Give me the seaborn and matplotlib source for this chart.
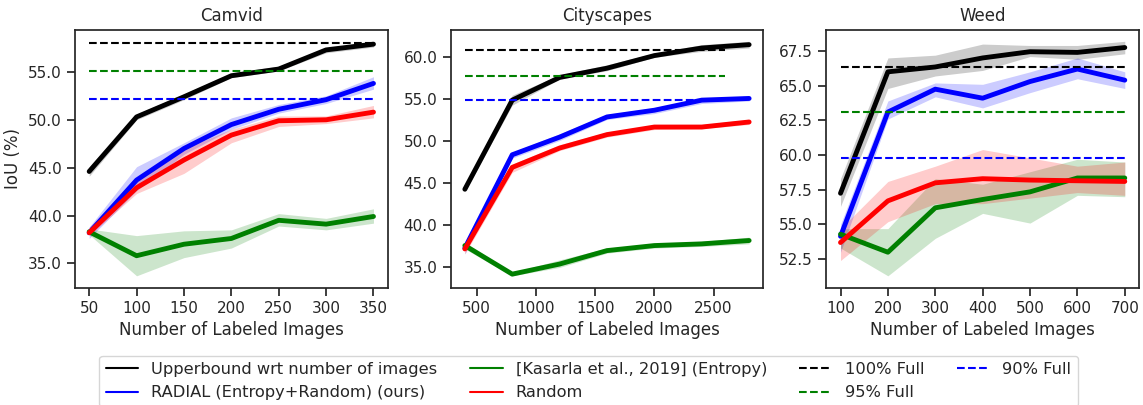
import numpy as np
import pandas as pd
import matplotlib
matplotlib.use("Agg")
import matplotlib.pyplot as plt
from matplotlib.lines import Line2D
from matplotlib.ticker import FormatStrFormatter
import seaborn as sns

# ---------------- data ----------------
titles = ["Camvid", "Cityscapes", "Weed"]
method_names = ["Upperbound wrt number of images", "RADIAL (Entropy+Random) (ours)",
                "[Kasarla et al., 2019] (Entropy)", "Random"]
ref_names = ["100% Full", "95% Full", "90% Full"]

# Camvid
camvid_x = [50, 100, 150, 200, 250, 300, 350]
camvid_upper = [44.6, 50.3, 52.4, 54.6, 55.3, 57.3, 57.9]
camvid_upper_lo = [44.1, 50.0, 52.1, 54.4, 55.1, 57.0, 57.6]
camvid_upper_hi = [45.1, 50.6, 52.7, 54.9, 55.6, 57.5, 58.2]
camvid_radial = [38.2, 43.7, 47.0, 49.5, 51.1, 52.1, 53.8]
camvid_radial_lo = [37.6, 42.6, 46.4, 49.0, 50.7, 51.7, 53.2]
camvid_radial_hi = [38.8, 45.1, 47.6, 50.2, 51.6, 52.5, 54.5]
camvid_entropy = [38.3, 35.8, 37.0, 37.6, 39.5, 39.1, 39.9]
camvid_entropy_lo = [38.0, 33.7, 35.6, 36.6, 38.9, 38.5, 39.2]
camvid_entropy_hi = [38.6, 37.9, 38.4, 38.5, 40.2, 39.7, 40.7]
camvid_random = [38.2, 42.9, 45.8, 48.4, 49.9, 50.0, 50.8]
camvid_random_lo = [37.9, 42.3, 44.4, 47.6, 49.3, 49.6, 50.2]
camvid_random_hi = [38.8, 43.5, 47.0, 49.0, 50.4, 50.4, 51.5]
camvid_refs = [58.0, 55.07, 52.18]
camvid_ref_span = [50, 350]

# Cityscapes
city_x = [400, 800, 1200, 1600, 2000, 2400, 2800]
city_upper = [44.3, 54.9, 57.6, 58.7, 60.2, 61.1, 61.5]
city_upper_lo = [44.0, 54.3, 57.4, 58.4, 60.0, 60.7, 61.1]
city_upper_hi = [44.6, 55.5, 57.9, 59.1, 60.5, 61.5, 61.9]
city_radial = [37.3, 48.4, 50.5, 52.9, 53.7, 54.9, 55.1]
city_radial_lo = [36.6, 48.0, 50.1, 52.6, 53.3, 54.5, 54.8]
city_radial_hi = [37.8, 48.7, 50.9, 53.2, 54.0, 55.1, 55.4]
city_entropy = [37.6, 34.2, 35.4, 37.0, 37.6, 37.8, 38.2]
city_entropy_lo = [37.2, 34.0, 35.0, 36.7, 37.3, 37.5, 37.8]
city_entropy_hi = [38.0, 34.4, 35.9, 37.3, 37.8, 38.1, 38.6]
city_random = [37.2, 46.9, 49.2, 50.8, 51.7, 51.7, 52.3]
city_random_lo = [36.6, 46.3, 48.9, 50.5, 51.4, 51.5, 52.0]
city_random_hi = [37.7, 47.3, 49.6, 51.1, 51.9, 52.0, 52.6]
city_refs = [60.83, 57.82, 54.86]
city_ref_span = [400, 2600]

# Weed
weed_x = [100, 200, 300, 400, 500, 600, 700]
weed_upper = [57.25, 66.0, 66.35, 67.0, 67.45, 67.4, 67.75]
weed_upper_lo = [56.3, 64.8, 65.7, 66.1, 67.1, 66.9, 67.3]
weed_upper_hi = [58.3, 67.0, 67.2, 68.0, 67.9, 67.9, 68.2]
weed_radial = [54.15, 63.1, 64.75, 64.1, 65.3, 66.2, 65.4]
weed_radial_lo = [53.0, 62.6, 64.2, 63.4, 64.5, 65.5, 64.8]
weed_radial_hi = [55.0, 63.9, 65.2, 65.1, 66.0, 67.0, 66.0]
weed_entropy = [54.3, 53.0, 56.2, 56.8, 57.35, 58.35, 58.35]
weed_entropy_lo = [53.3, 51.3, 54.0, 55.8, 55.1, 57.1, 57.0]
weed_entropy_hi = [54.7, 54.7, 58.3, 57.9, 58.8, 59.7, 59.5]
weed_random = [53.7, 56.7, 58.0, 58.3, 58.2, 58.15, 58.1]
weed_random_lo = [52.4, 55.2, 56.5, 56.5, 56.9, 57.3, 57.1]
weed_random_hi = [54.7, 58.1, 59.2, 60.4, 59.8, 59.2, 59.5]
weed_refs = [66.38, 63.1, 59.8]
weed_ref_span = [100, 700]

method_colors = ["black", "blue", "green", "red"]
ref_colors = ["black", "green", "blue"]

datasets = [
    (camvid_x,
     [(camvid_upper, camvid_upper_lo, camvid_upper_hi),
      (camvid_radial, camvid_radial_lo, camvid_radial_hi),
      (camvid_entropy, camvid_entropy_lo, camvid_entropy_hi),
      (camvid_random, camvid_random_lo, camvid_random_hi)],
     camvid_refs, camvid_ref_span),
    (city_x,
     [(city_upper, city_upper_lo, city_upper_hi),
      (city_radial, city_radial_lo, city_radial_hi),
      (city_entropy, city_entropy_lo, city_entropy_hi),
      (city_random, city_random_lo, city_random_hi)],
     city_refs, city_ref_span),
    (weed_x,
     [(weed_upper, weed_upper_lo, weed_upper_hi),
      (weed_radial, weed_radial_lo, weed_radial_hi),
      (weed_entropy, weed_entropy_lo, weed_entropy_hi),
      (weed_random, weed_random_lo, weed_random_hi)],
     weed_refs, weed_ref_span),
]

# ---------------- plot ----------------
sns.set_theme(style="ticks", context="notebook")
plt.rcParams["font.family"] = ["DejaVu Sans"]

fig, axes = plt.subplots(1, 3, figsize=(11.43, 4.05), dpi=100)
fig.subplots_adjust(left=0.0656, right=0.9965, top=0.927, bottom=0.29, wspace=0.2013)

for ax, title, (xs, series, refs, span) in zip(axes, titles, datasets):
    for (vals, lo, hi), col, name in zip(series, method_colors, method_names):
        df = pd.DataFrame({"x": xs, "y": vals})
        ax.fill_between(xs, lo, hi, color=col, alpha=0.2, linewidth=0)
        sns.lineplot(data=df, x="x", y="y", color=col, linewidth=3.5, ax=ax)
    for v, col in zip(refs, ref_colors):
        ax.hlines(v, span[0], span[1], colors=col, linestyles="--", linewidth=1.5)
    ax.set_title(title)
    ax.set_xlabel("Number of Labeled Images")
    ax.set_ylabel("")
    ax.yaxis.set_major_formatter(FormatStrFormatter("%.1f"))

axes[0].set_ylabel("IoU (%)")
axes[0].set_xticks(camvid_x)
axes[1].set_xticks([500, 1000, 1500, 2000, 2500])
axes[2].set_xticks(weed_x)

handles = [Line2D([], [], color=c, lw=1.5) for c in method_colors]
handles += [Line2D([], [], color=c, lw=1.5, ls="--") for c in ref_colors]
labels = method_names + ref_names
fig.legend(handles, labels, loc="upper center", bbox_to_anchor=(0.515, 0.142),
           ncol=4, frameon=True, fontsize=11.7)

fig.savefig("out.png", dpi=100)
